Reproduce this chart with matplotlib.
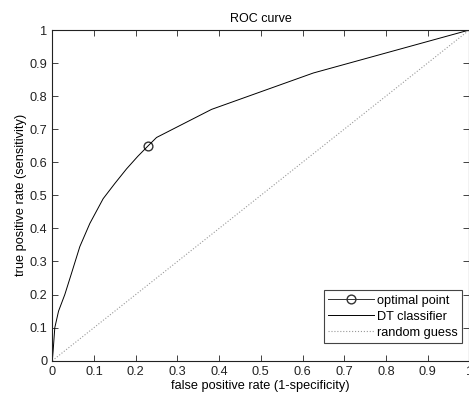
import matplotlib
matplotlib.use('Agg')
import matplotlib.pyplot as plt

plt.rcParams['font.family'] = ['Liberation Sans', 'DejaVu Sans']
plt.rcParams['font.size'] = 9.2

# ROC curve of the decision tree classifier
fpr = [0.0, 0.002, 0.006, 0.015, 0.03, 0.045, 0.066, 0.09, 0.122, 0.15, 0.178, 0.205,
       0.23, 0.25, 0.382, 0.626, 1.0]
tpr = [0.0, 0.03, 0.10, 0.15, 0.20, 0.26, 0.345, 0.415, 0.49, 0.536, 0.58, 0.618,
       0.65, 0.675, 0.76, 0.87, 1.0]
opt_fpr = [0.23]
opt_tpr = [0.65]
guess = [0, 1]
ticks = [0, 0.1, 0.2, 0.3, 0.4, 0.5, 0.6, 0.7, 0.8, 0.9, 1]
tick_labels = ['0', '0.1', '0.2', '0.3', '0.4', '0.5', '0.6', '0.7', '0.8', '0.9', '1']

fig = plt.figure(figsize=(4.69, 3.98), dpi=100)
ax = fig.add_axes([52.3 / 469, 37.3 / 398, 417 / 469, 330.7 / 398])

ax.plot(opt_fpr, opt_tpr, 'o-', color='#333333', mfc='none', ms=6.3, lw=0.7, label='optimal point')
ax.plot(fpr, tpr, '-', color='black', lw=0.7, label='DT classifier')
ax.plot(guess, guess, ':', color='#999999', lw=0.8, label='random guess')

ax.set_xlim(0, 1)
ax.set_ylim(0, 1)
ax.set_xticks(ticks)
ax.set_xticklabels(tick_labels)
ax.set_yticks(ticks)
ax.set_yticklabels(tick_labels)
ax.tick_params(direction='in', top=True, right=True, length=4, width=0.6, colors='#222222')
for s in ax.spines.values():
    s.set_linewidth(0.8)
    s.set_color('#222222')

ax.set_title('ROC curve', fontsize=9, pad=6)
ax.set_xlabel('false positive rate (1-specificity)', labelpad=2)
ax.set_ylabel('true positive rate (sensitivity)', labelpad=2)

leg = ax.legend(loc='lower right', bbox_to_anchor=(0.9825, 0.0535), borderaxespad=0,
                fancybox=False, handlelength=3.6, borderpad=0.35,
                labelspacing=0.3, handletextpad=0.2, framealpha=1)
leg.get_frame().set_edgecolor('#444444')
leg.get_frame().set_linewidth(0.8)

fig.savefig('out.png', dpi=100)
